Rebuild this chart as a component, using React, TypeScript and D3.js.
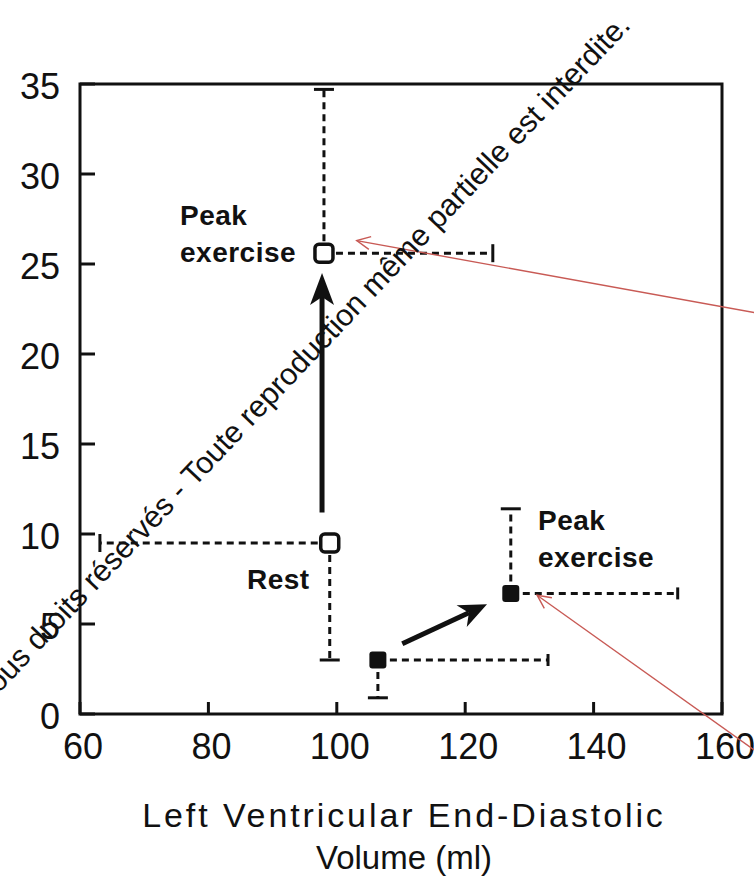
import React from "react";
import * as d3 from "d3";

// Left ventricular end-diastolic volume (ml) vs. response variable, rest -> peak exercise
const stages = ["Rest", "Peak exercise"];

// open squares
const openVolume = [98.9, 98.0];
const openValue = [9.5, 25.6];
const openVolumeBound = [63.1, 124.3];
const openValueBound = [3.0, 34.7];

// filled squares
const filledVolume = [106.4, 127.1];
const filledValue = [3.0, 6.7];
const filledVolumeBound = [132.9, 153.1];
const filledValueBound = [0.9, 11.4];

// transition arrows [from, to] in data units
const openArrow = [[97.7, 11.2], [97.7, 24.5]];
const filledArrow = [[110.2, 3.9], [123.4, 6.1]];

// red annotation pointers [tip, tail]
const pointers = [
  [[103.1, 26.3], [165, 22.3]],
  [[131.2, 6.6], [165, -2.0]],
];

const xTicks = [60, 80, 100, 120, 140, 160];
const yTicks = [0, 5, 10, 15, 20, 25, 30, 35];

const xTitle = ["Left Ventricular End-Diastolic", "Volume (ml)"];
const watermark =
  "Tous droits réservés - Toute reproduction même partielle est interdite.";

const W = 754;
const H = 881;
const FONT = "'Liberation Sans', Arial, Helvetica, sans-serif";

const x = d3.scaleLinear().domain([60, 160]).range([80, 722]);
const y = d3.scaleLinear().domain([0, 35]).range([714, 84]);

const dash = "7 5";

function arrowHead(x1: number, y1: number, x2: number, y2: number, len: number, half: number, notch: number) {
  const a = Math.atan2(y2 - y1, x2 - x1);
  const ux = Math.cos(a), uy = Math.sin(a);
  const px = -uy, py = ux;
  const bx = x2 - ux * len, by = y2 - uy * len;
  const nx = x2 - ux * (len - notch), ny = y2 - uy * (len - notch);
  const p = d3.path();
  p.moveTo(x2, y2);
  p.lineTo(bx + px * half, by + py * half);
  p.lineTo(nx, ny);
  p.lineTo(bx - px * half, by - py * half);
  p.closePath();
  return { d: p.toString(), nx, ny };
}

function BlackArrow({ seg, len, half }: { seg: number[][]; len: number; half: number }) {
  const x1 = x(seg[0][0]), y1 = y(seg[0][1]);
  const x2 = x(seg[1][0]), y2 = y(seg[1][1]);
  const h = arrowHead(x1, y1, x2, y2, len, half, 8);
  return (
    <g>
      <line x1={x1} y1={y1} x2={h.nx} y2={h.ny} stroke="#111" strokeWidth={5} />
      <path d={h.d} fill="#111" />
    </g>
  );
}

function Pointer({ seg }: { seg: number[][] }) {
  const tx = x(seg[0][0]), ty = y(seg[0][1]);
  const sx = x(seg[1][0]), sy = y(seg[1][1]);
  const a = Math.atan2(sy - ty, sx - tx);
  const l = 15, s = 0.45;
  return (
    <g stroke="#c85a55" strokeWidth={1.4} fill="none">
      <line x1={sx} y1={sy} x2={tx} y2={ty} />
      <path
        d={`M${tx + l * Math.cos(a + s)},${ty + l * Math.sin(a + s)}L${tx},${ty}L${tx + l * Math.cos(a - s)},${ty + l * Math.sin(a - s)}`}
      />
    </g>
  );
}

function ErrorBars({ vx, vy, bx, by, capH, capV }: { vx: number; vy: number; bx: number; by: number; capH: number; capV: number }) {
  const cx = x(vx), cy = y(vy);
  return (
    <g stroke="#111" strokeWidth={3}>
      <line x1={cx} y1={cy} x2={x(bx)} y2={cy} strokeDasharray={dash} />
      <line x1={x(bx)} y1={cy - capH} x2={x(bx)} y2={cy + capH} />
      <line x1={cx} y1={cy} x2={cx} y2={y(by)} strokeDasharray={dash} />
      <line x1={cx - capV} y1={y(by)} x2={cx + capV} y2={y(by)} />
    </g>
  );
}

export default function App() {
  return (
    <svg
      width={W}
      height={H}
      viewBox={`0 0 ${W} ${H}`}
      style={{ position: "absolute", left: 0, top: 0, background: "#fff" }}
      fontFamily={FONT}
    >
      <rect width={W} height={H} fill="#fff" />

      {/* frame */}
      <rect
        x={x(60)}
        y={y(35)}
        width={x(160) - x(60)}
        height={y(0) - y(35)}
        fill="none"
        stroke="#111"
        strokeWidth={3}
      />

      {/* y ticks */}
      {yTicks.map((t) => (
        <g key={"y" + t}>
          <line x1={x(60)} x2={x(60) + 15} y1={y(t)} y2={y(t)} stroke="#111" strokeWidth={3} />
          <text x={60} y={y(t) + 2} textAnchor="end" dominantBaseline="central" fontSize={36} fill="#111">
            {t}
          </text>
        </g>
      ))}

      {/* x ticks */}
      {xTicks.map((t) => (
        <g key={"x" + t}>
          <line x1={x(t)} x2={x(t)} y1={y(0)} y2={y(0) - 12} stroke="#111" strokeWidth={3} />
          <text x={x(t) + 3} y={759} textAnchor="middle" fontSize={36} fill="#111">
            {t}
          </text>
        </g>
      ))}

      {/* x axis title */}
      <text x={404} y={827} textAnchor="middle" fontSize={34} letterSpacing={2.9} fill="#111">
        {xTitle[0]}
      </text>
      <text x={404} y={869} textAnchor="middle" fontSize={33} fill="#111">
        {xTitle[1]}
      </text>

      {/* error bars */}
      {stages.map((s, i) => (
        <ErrorBars
          key={"oe" + s}
          vx={openVolume[i]}
          vy={openValue[i]}
          bx={openVolumeBound[i]}
          by={openValueBound[i]}
          capH={9}
          capV={10}
        />
      ))}
      {stages.map((s, i) => (
        <ErrorBars
          key={"fe" + s}
          vx={filledVolume[i]}
          vy={filledValue[i]}
          bx={filledVolumeBound[i]}
          by={filledValueBound[i]}
          capH={6}
          capV={10}
        />
      ))}

      {/* markers */}
      {stages.map((s, i) => (
        <rect
          key={"om" + s}
          x={x(openVolume[i]) - 9}
          y={y(openValue[i]) - 9}
          width={18}
          height={18}
          rx={4}
          fill="#fff"
          stroke="#111"
          strokeWidth={3.5}
        />
      ))}
      {stages.map((s, i) => (
        <rect
          key={"fm" + s}
          x={x(filledVolume[i]) - 8.5}
          y={y(filledValue[i]) - 8.5}
          width={17}
          height={17}
          rx={3}
          fill="#111"
        />
      ))}

      {/* arrows */}
      <BlackArrow seg={openArrow} len={32} half={12} />
      <BlackArrow seg={filledArrow} len={28} half={12} />

      {/* labels */}
      <g fontSize={28} fontWeight="bold" fill="#111" letterSpacing={0.5}>
        <text x={180} y={225}>Peak</text>
        <text x={180} y={262}>exercise</text>
        <text x={247} y={589}>{stages[0]}</text>
        <text x={538} y={530}>Peak</text>
        <text x={538} y={567}>exercise</text>
      </g>

      {/* red pointers */}
      {pointers.map((p, i) => (
        <Pointer key={"p" + i} seg={p} />
      ))}

      {/* rights notice */}
      <text
        transform="translate(-12,705) rotate(-46.5)"
        fontSize={30.5}
        fill="#111"
      >
        {watermark}
      </text>
    </svg>
  );
}
